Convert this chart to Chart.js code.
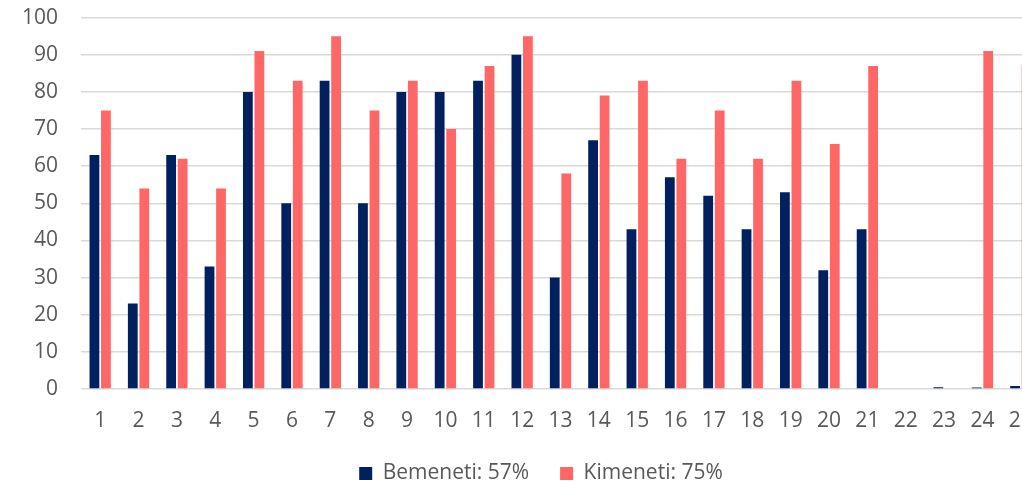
<!DOCTYPE html>
<html>
<head>
<meta charset="utf-8">
<script src="https://cdn.jsdelivr.net/npm/chart.js@4"></script>
<style>
  html, body { margin: 0; padding: 0; background: #fff; overflow: hidden; }
  #wrap { width: 1082px; height: 512px; margin-top: -18px; }
</style>
</head>
<body>
<div id="wrap"><canvas id="myChart"></canvas></div>
<script>
const categories = ["1","2","3","4","5","6","7","8","9","10","11","12","13",
    "14","15","16","17","18","19","20","21","22","23","24","25"];
const bemeneti = [63, 23, 63, 33, 80, 50, 83, 50, 80, 80, 83, 90, 30,
    67, 43, 57, 52, 43, 53, 32, 43, 0, 0.5, 0.4, 0.8];
const kimeneti = [75, 54, 62, 54, 91, 83, 95, 75, 83, 70, 87, 95, 58,
    79, 83, 62, 75, 62, 83, 66, 87, 0, 0, 91, 87];
const seriesLabels = ["Bemeneti: 57%", "Kimeneti: 75%"];

const FONT = "'Open Sans', sans-serif";

// nudge the legend a little to the right, like in the original
const shiftLegend = {
    id: 'shiftLegend',
    afterLayout(chart) {
        if (chart.legend) {
            chart.legend.left += 21;
            chart.legend.right += 21;
        }
    },
};

const ctx = document.getElementById('myChart').getContext('2d');
const myChart = new Chart(ctx, {
    type: 'bar',
    data: {
        labels: categories,
        datasets: [
            {
                label: seriesLabels[0],
                data: bemeneti,
                backgroundColor: '#002060',
                barPercentage: 0.85,
                categoryPercentage: 0.6,
            },
            {
                label: seriesLabels[1],
                data: kimeneti,
                backgroundColor: '#FF6666',
                barPercentage: 0.85,
                categoryPercentage: 0.6,
            },
        ],
    },
    plugins: [shiftLegend],
    options: {
        responsive: true,
        maintainAspectRatio: false,
        animation: false,
        layout: { padding: { top: 0, right: 42, left: 0, bottom: 0 } },
        plugins: {
            legend: {
                position: 'bottom',
                labels: {
                    boxWidth: 13,
                    boxHeight: 13,
                    padding: 31,
                    color: '#595959',
                    font: { family: FONT, size: 21 },
                },
            },
            tooltip: { enabled: false },
        },
        scales: {
            x: {
                grid: { display: false, drawTicks: false },
                border: { display: false },
                ticks: {
                    color: '#595959',
                    font: { family: FONT, size: 21 },
                    padding: 19,
                    maxRotation: 0,
                    autoSkip: false,
                },
                afterFit: (scale) => { scale.height = 43; },
            },
            y: {
                min: 0,
                max: 100,
                grid: { color: '#d9d9d9', lineWidth: 1.5, drawTicks: false },
                border: { display: false },
                ticks: {
                    stepSize: 10,
                    color: '#595959',
                    font: { family: FONT, size: 21 },
                    padding: 23,
                },
                afterFit: (scale) => { scale.width = 81; },
            },
        },
    },
});
</script>
</body>
</html>
